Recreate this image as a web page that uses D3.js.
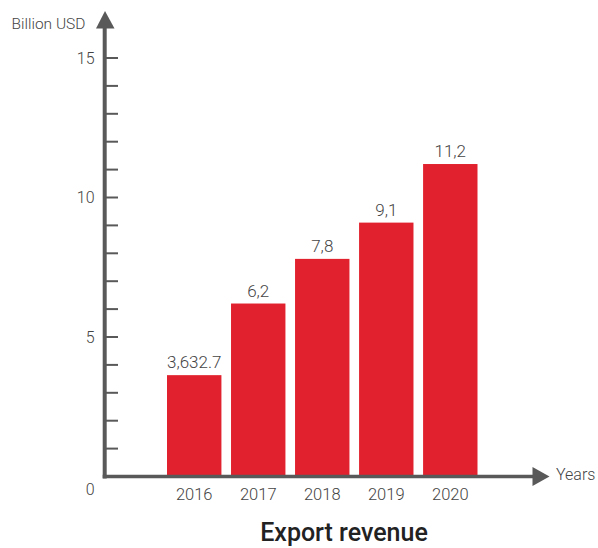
<!DOCTYPE html>
<html>
<head>
<meta charset="utf-8">
<script src="https://cdn.jsdelivr.net/npm/d3@7"></script>
<style>
  body { margin: 0; background: #fff; }
  svg text { font-family: Roboto, "Noto Sans", sans-serif; }
</style>
</head>
<body>
<svg id="chart" width="598" height="548"></svg>
<script>
// chart data
const years = ['2016', '2017', '2018', '2019', '2020'];
const revenue = [3.6327, 6.2, 7.8, 9.1, 11.2];
const valueLabels = ['3,632.7', '6,2', '7,8', '9,1', '11,2'];
const yTickLabels = [0, 5, 10, 15];

const svg = d3.select('#chart');
const axisColor = '#595959';
const barColor = '#e1222e';
const textColor = '#444';

// scales
const y = d3.scaleLinear().domain([0, 15]).range([476.5, 58]);
const x = d3.scaleBand()
    .domain(years)
    .range([167, 477.5])
    .paddingInner(0.15)
    .paddingOuter(0);

// bars
svg.selectAll('.bar')
    .data(years)
    .enter().append('rect')
    .attr('class', 'bar')
    .attr('x', d => x(d))
    .attr('width', x.bandwidth())
    .attr('y', (d, i) => y(revenue[i]))
    .attr('height', (d, i) => y(0) - y(revenue[i]))
    .attr('fill', barColor);

// value labels
svg.selectAll('.val')
    .data(years)
    .enter().append('text')
    .attr('x', d => x(d) + x.bandwidth() / 2)
    .attr('y', (d, i) => y(revenue[i]) - 7)
    .attr('text-anchor', 'middle')
    .attr('font-size', 17)
    .attr('font-weight', 300)
    .attr('fill', textColor)
    .text((d, i) => valueLabels[i]);

// y axis: minor ticks every unit
const minorTicks = d3.range(1, 16);
svg.selectAll('.ytick')
    .data(minorTicks)
    .enter().append('line')
    .attr('x1', 105).attr('x2', 118)
    .attr('y1', d => y(d)).attr('y2', d => y(d))
    .attr('stroke', axisColor)
    .attr('stroke-width', 2);

svg.append('line')
    .attr('x1', 104.7).attr('x2', 104.7)
    .attr('y1', 27).attr('y2', y(0) + 2)
    .attr('stroke', axisColor)
    .attr('stroke-width', 4);

svg.append('path')
    .attr('d', 'M96,28.5 L114.5,28.5 L105,11 Z')
    .attr('fill', axisColor);

svg.selectAll('.ylab')
    .data(yTickLabels)
    .enter().append('text')
    .attr('x', 94.5)
    .attr('y', d => d === 0 ? y(0) + 13 : y(d))
    .attr('dy', '0.35em')
    .attr('text-anchor', 'end')
    .attr('font-size', 16)
    .attr('font-weight', 300)
    .attr('fill', textColor)
    .text(d => d);

svg.append('text')
    .attr('x', 11.5).attr('y', 29)
    .attr('font-size', 15.5)
    .attr('font-weight', 300)
    .attr('fill', textColor)
    .text('Billion USD');

// x axis
svg.append('line')
    .attr('x1', 102.7).attr('x2', 535)
    .attr('y1', y(0)).attr('y2', y(0))
    .attr('stroke', axisColor)
    .attr('stroke-width', 3.5);

svg.append('path')
    .attr('d', `M532.5,${y(0) - 9.5} L532.5,${y(0) + 9.5} L549.5,${y(0)} Z`)
    .attr('fill', axisColor);

svg.append('text')
    .attr('x', 556).attr('y', 480)
    .attr('font-size', 16)
    .attr('font-weight', 300)
    .attr('fill', textColor)
    .text('Years');

svg.selectAll('.xlab')
    .data(years)
    .enter().append('text')
    .attr('x', d => x(d) + x.bandwidth() / 2)
    .attr('y', 500)
    .attr('text-anchor', 'middle')
    .attr('font-size', 16.5)
    .attr('font-weight', 300)
    .attr('fill', textColor)
    .text(d => d);

// title
svg.append('text')
    .attr('x', 344).attr('y', 541)
    .attr('text-anchor', 'middle')
    .attr('font-size', 25)
    .attr('font-weight', 500)
    .attr('fill', '#222')
    .text('Export revenue');
</script>
</body>
</html>
